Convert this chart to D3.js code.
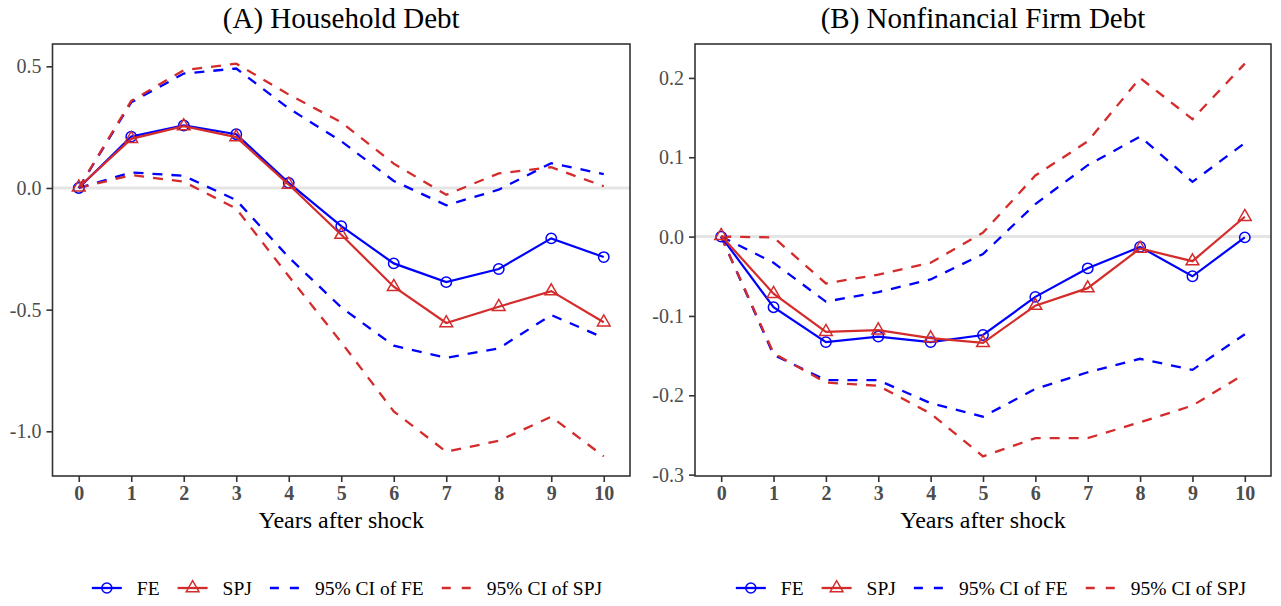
<!DOCTYPE html>
<html>
<head>
<meta charset="utf-8">
<title>Debt responses</title>
<script src="https://cdnjs.cloudflare.com/ajax/libs/d3/7.8.5/d3.min.js"></script>
<style>
  body { margin: 0; background: #fff; }
  svg { display: block; }
  text { font-family: "Liberation Serif", "Times New Roman", serif; }
</style>
</head>
<body>
<svg id="chart" width="1281" height="606"></svg>
<script>
// ---- data ----
var years = [0, 1, 2, 3, 4, 5, 6, 7, 8, 9, 10];

// (A) household debt
var hhFE      = [0, 0.211, 0.257, 0.221, 0.021, -0.157, -0.310, -0.387, -0.333, -0.207, -0.284];
var hhSPJ     = [0.003, 0.202, 0.254, 0.209, 0.014, -0.192, -0.406, -0.555, -0.488, -0.424, -0.552];
var hhFELow   = [0, 0.064, 0.050, -0.050, -0.285, -0.491, -0.648, -0.698, -0.659, -0.522, -0.616];
var hhFEHigh  = [0, 0.352, 0.470, 0.491, 0.327, 0.192, 0.029, -0.071, -0.007, 0.102, 0.057];
var hhSPJLow  = [0, 0.053, 0.026, -0.085, -0.363, -0.634, -0.918, -1.084, -1.039, -0.940, -1.103];
var hhSPJHigh = [0, 0.358, 0.484, 0.511, 0.384, 0.270, 0.100, -0.028, 0.060, 0.085, 0.007];

// (B) nonfinancial firm debt
var firmFE      = [0, -0.089, -0.133, -0.126, -0.133, -0.124, -0.076, -0.040, -0.013, -0.050, -0.001];
var firmSPJ     = [0.001, -0.072, -0.120, -0.118, -0.128, -0.134, -0.087, -0.065, -0.015, -0.031, 0.025];
var firmFELow   = [0, -0.149, -0.181, -0.181, -0.210, -0.227, -0.192, -0.171, -0.154, -0.168, -0.123];
var firmFEHigh  = [0, -0.033, -0.082, -0.070, -0.054, -0.022, 0.041, 0.090, 0.126, 0.069, 0.118];
var firmSPJLow  = [0, -0.147, -0.184, -0.188, -0.223, -0.277, -0.254, -0.254, -0.234, -0.213, -0.173];
var firmSPJHigh = [0, -0.001, -0.059, -0.048, -0.033, 0.005, 0.077, 0.120, 0.200, 0.148, 0.218];

var hhYTicks = [0.5, 0.0, -0.5, -1.0];
var hhYTickLabels = ['0.5', '0.0', '-0.5', '-1.0'];
var firmYTicks = [0.2, 0.1, 0.0, -0.1, -0.2, -0.3];
var firmYTickLabels = ['0.2', '0.1', '0.0', '-0.1', '-0.2', '-0.3'];

var titles = ['(A) Household Debt', '(B) Nonfinancial Firm Debt'];
var xTitle = 'Years after shock';
var legendLabels = ['FE', 'SPJ', '95% CI of FE', '95% CI of SPJ'];

// ---- styles ----
var BLUE = '#0000ff';
var RED = '#d42b2b';
var plotTop = 44, plotBottom = 476;

var svg = d3.select('#chart');

var panels = [
    { title: titles[0], left: 52.5, right: 630, legendX: 347,
      fe: hhFE, spj: hhSPJ, feLo: hhFELow, feHi: hhFEHigh, spjLo: hhSPJLow, spjHi: hhSPJHigh,
      ticks: hhYTicks, tickLabels: hhYTickLabels },
    { title: titles[1], left: 695, right: 1271, legendX: 991,
      fe: firmFE, spj: firmSPJ, feLo: firmFELow, feHi: firmFEHigh, spjLo: firmSPJLow, spjHi: firmSPJHigh,
      ticks: firmYTicks, tickLabels: firmYTickLabels }
];

panels.forEach(function (p) {
    var g = svg.append('g');

    // ggplot-like 5% expansion
    var x = d3.scaleLinear().domain([-0.5, 10.5]).range([p.left, p.right]);
    var all = [].concat(p.fe, p.spj, p.feLo, p.feHi, p.spjLo, p.spjHi);
    var lo = d3.min(all), hi = d3.max(all), pad = (hi - lo) * 0.05;
    var y = d3.scaleLinear().domain([lo - pad, hi + pad]).range([plotBottom, plotTop]);

    // title
    g.append('text')
        .attr('x', (p.left + p.right) / 2)
        .attr('y', 28)
        .attr('text-anchor', 'middle')
        .style('font-size', '29px')
        .attr('fill', '#000')
        .text(p.title);

    // zero line
    g.append('line')
        .attr('x1', p.left).attr('x2', p.right)
        .attr('y1', y(0)).attr('y2', y(0))
        .attr('stroke', '#e5e5e5').attr('stroke-width', 3);

    var line = d3.line()
        .x(function (d, i) { return x(years[i]); })
        .y(function (d) { return y(d); });

    // confidence bands
    [[p.feLo, BLUE], [p.feHi, BLUE], [p.spjLo, RED], [p.spjHi, RED]].forEach(function (s) {
        g.append('path')
            .attr('d', line(s[0]))
            .attr('fill', 'none')
            .attr('stroke', s[1])
            .attr('stroke-width', 2.3)
            .attr('stroke-dasharray', '10,9');
    });

    // FE line + circles
    g.append('path').attr('d', line(p.fe))
        .attr('fill', 'none').attr('stroke', BLUE).attr('stroke-width', 2.2);
    g.selectAll('.fe').data(p.fe).enter().append('circle')
        .attr('cx', function (d, i) { return x(years[i]); })
        .attr('cy', function (d) { return y(d); })
        .attr('r', 5.2)
        .attr('fill', 'none').attr('stroke', BLUE).attr('stroke-width', 1.5);

    // SPJ line + triangles
    g.append('path').attr('d', line(p.spj))
        .attr('fill', 'none').attr('stroke', RED).attr('stroke-width', 2.2);
    var tri = d3.symbol().type(d3.symbolTriangle).size(70);
    g.selectAll('.spj').data(p.spj).enter().append('path')
        .attr('d', tri)
        .attr('transform', function (d, i) { return 'translate(' + x(years[i]) + ',' + y(d) + ')'; })
        .attr('fill', 'none').attr('stroke', RED).attr('stroke-width', 1.5);

    // border
    g.append('rect')
        .attr('x', p.left).attr('y', plotTop)
        .attr('width', p.right - p.left).attr('height', plotBottom - plotTop)
        .attr('fill', 'none').attr('stroke', '#333').attr('stroke-width', 1.6);

    // axes
    var xAxis = g.append('g')
        .attr('transform', 'translate(0,' + plotBottom + ')')
        .call(d3.axisBottom(x).tickValues(years).tickSize(6).tickPadding(4));
    xAxis.select('.domain').remove();
    xAxis.selectAll('line').attr('stroke', '#333').attr('stroke-width', 1.6);
    xAxis.selectAll('text')
        .attr('fill', '#4d4d4d')
        .style('font-size', '20px')
        .style('font-weight', 'bold')
        .style('font-family', '"Liberation Serif", serif');

    var yAxis = g.append('g')
        .attr('transform', 'translate(' + p.left + ',0)')
        .call(d3.axisLeft(y).tickValues(p.ticks).tickSize(6).tickPadding(5)
            .tickFormat(function (d, i) { return p.tickLabels[i]; }));
    yAxis.select('.domain').remove();
    yAxis.selectAll('line').attr('stroke', '#333').attr('stroke-width', 1.6);
    yAxis.selectAll('text')
        .attr('fill', '#4d4d4d')
        .style('font-size', '20px')
        .style('font-family', '"Liberation Serif", serif');

    // axis title
    g.append('text')
        .attr('x', (p.left + p.right) / 2)
        .attr('y', 528)
        .attr('text-anchor', 'middle')
        .style('font-size', '24px')
        .attr('fill', '#000')
        .text(xTitle);

    // legend
    var lg = g.append('g');
    var cx = 0, ly = 588;
    var keys = [
        { color: BLUE, dash: null, mark: 'circle' },
        { color: RED, dash: null, mark: 'tri' },
        { color: BLUE, dash: '9,11', mark: null },
        { color: RED, dash: '9,11', mark: null }
    ];
    legendLabels.forEach(function (lab, i) {
        var k = keys[i];
        var kl = lg.append('line')
            .attr('x1', cx).attr('x2', cx + 30)
            .attr('y1', ly).attr('y2', ly)
            .attr('stroke', k.color).attr('stroke-width', 2.3);
        if (k.dash) kl.attr('stroke-dasharray', k.dash);
        if (k.mark === 'circle') {
            lg.append('circle').attr('cx', cx + 15).attr('cy', ly).attr('r', 5)
                .attr('fill', 'none').attr('stroke', k.color).attr('stroke-width', 1.5);
        } else if (k.mark === 'tri') {
            lg.append('path').attr('d', tri)
                .attr('transform', 'translate(' + (cx + 15) + ',' + ly + ')')
                .attr('fill', 'none').attr('stroke', k.color).attr('stroke-width', 1.5);
        }
        cx += 30 + 15;
        var t = lg.append('text')
            .attr('x', cx).attr('y', ly)
            .attr('dominant-baseline', 'central')
            .style('font-size', '19.5px')
            .attr('fill', '#000')
            .text(lab);
        cx += t.node().getComputedTextLength() + 18;
    });
    var lw = cx - 18;
    lg.attr('transform', 'translate(' + (p.legendX - lw / 2) + ',0)');
});
</script>
</body>
</html>
